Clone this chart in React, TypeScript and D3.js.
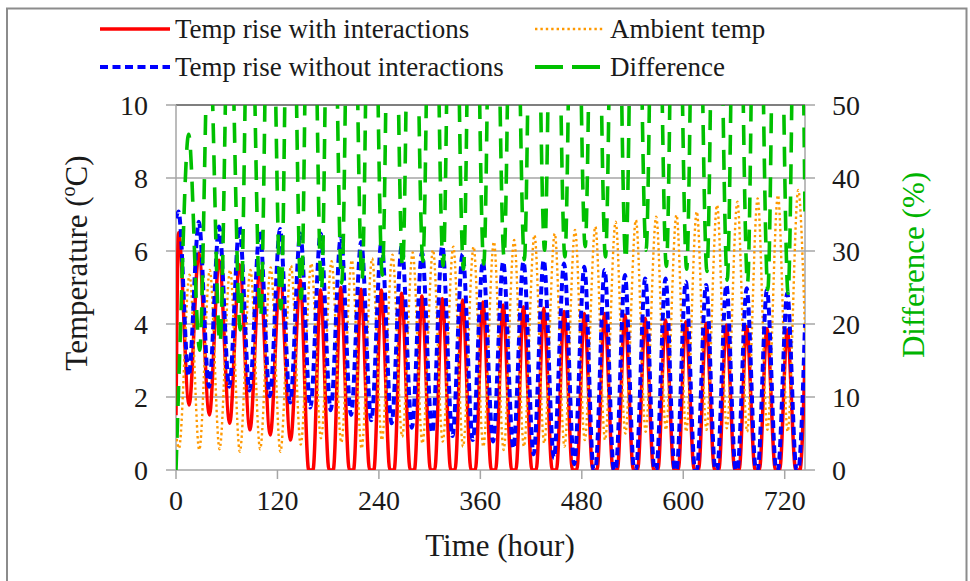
import React from "react";
import * as d3 from "d3";

// ---- Data ----
const xTicks = [0, 120, 240, 360, 480, 600, 720];
const yLeftTicks = [0, 2, 4, 6, 8, 10];
const yRightTicks = [0, 10, 20, 30, 40, 50];
const dayStarts = [0, 24, 48, 72, 96, 120, 144, 168, 192, 216, 240, 264, 288, 312, 336, 360, 384, 408, 432, 456, 480, 504, 528, 552, 576, 600, 624, 648, 672, 696, 720];

// Temp rise with interactions (red): daily peaks / troughs (°C)
const redPeaks = [6.5, 5.94, 5.75, 5.62, 5.46, 5.34, 5.2, 4.93, 5.0, 4.95, 4.93, 4.84, 4.77, 4.7, 4.66, 4.6, 4.52, 4.47, 4.43, 4.34, 4.29, 4.29, 4.25, 4.16, 4.11, 4.06, 4.02, 3.97, 3.93, 3.88, 3.84];
const redTroughs = [1.78, 1.51, 1.28, 1.1, 0.96, 0.82, 0, 0, 0, 0, 0, 0, 0, 0, 0, 0, 0, 0, 0, 0, 0, 0, 0, 0, 0, 0, 0, 0, 0, 0, 0];
// Temp rise without interactions (blue)
const bluePeaks = [7.08, 6.8, 6.67, 6.67, 6.55, 6.6, 6.48, 6.48, 6.39, 6.25, 6.25, 6.14, 5.96, 6.14, 5.92, 5.71, 5.71, 5.71, 5.75, 5.66, 5.57, 5.48, 5.34, 5.25, 5.25, 5.16, 5.07, 5.07, 4.98, 4.93, 4.84];
const blueTroughs = [2.58, 2.28, 2.28, 2.18, 2.02, 1.85, 1.71, 1.64, 1.51, 1.36, 1.28, 1.16, 1.02, 0.93, 0.82, 0.78, 0.59, 0.43, 0.33, 0.16, 0, 0, 0, 0, 0, 0, 0, 0, 0, 0, 0];
// Ambient temp (orange)
const ambientPeaks = [5.35, 5.48, 5.48, 5.48, 5.55, 5.6, 5.66, 5.72, 5.75, 5.8, 5.9, 5.96, 6.03, 6.12, 6.12, 6.25, 6.3, 6.44, 6.48, 6.58, 6.67, 6.8, 6.85, 6.94, 6.99, 7.08, 7.26, 7.35, 7.44, 7.53, 7.67];
const ambientTroughs = [0.59, 0.55, 0.57, 0.5, 0.57, 0.5, 0.7, 0.87, 0.75, 0.59, 0.82, 0.91, 0.73, 0.78, 0.64, 0.64, 0.55, 0.64, 0.73, 0.64, 0.82, 0.82, 1.0, 1.05, 1.1, 1.05, 1.1, 1.14, 1.05, 1.1, 1.05];
// Difference (green, %)
const diffLows = [14.6, 16.4, 17.4, 19.2, 21.0, 22.1, 23.5, 24.7, 25.6, 26.0, 26.7, 27.8, 28.6, 28.0, 27.5, 28.2, 29.2, 28.8, 30.1, 29.2, 30.6, 29.2, 28.8, 30.1, 27.9, 27.5, 27.2, 26.0, 25.6, 24.7, 24.2];
const diffHighs = [46, 62, 70, 78, 86, 95, 100, 100, 100, 100, 100, 100, 100, 100, 100, 100, 100, 100, 100, 100, 100, 100, 100, 100, 100, 100, 100, 100, 100, 100, 100];

// start / end values of each hourly series
const redEnds = [1.5, 3.0];
const blueEnds = [6.9, 4.0];
const ambientEnds = [1.0, 3.8];
const diffEnds = [0, 35];

const W = 970;
const H = 581;
const M = { left: 176, right: 805, top: 105, bottom: 470 };
const FONT = "'Liberation Serif', 'Times New Roman', serif";

type P = [number, number];

function buildSeries(
  highs: number[],
  lows: number[],
  highHour: number,
  lowHour: number,
  flatHalf: number,
  ends: number[]
): P[] {
  const pts: P[] = [[0, ends[0]]];
  dayStarts.forEach((d, i) => {
    pts.push([d + highHour, highs[i]]);
    if (lows[i] === 0 && flatHalf > 0) {
      pts.push([d + lowHour - flatHalf, 0]);
      pts.push([d + lowHour + flatHalf, 0]);
    } else {
      pts.push([d + lowHour, lows[i]]);
    }
  });
  const out = pts.filter((p) => p[0] < 744).sort((a, b) => a[0] - b[0]);
  out.push([744, ends[1]]);
  return out;
}

export default function App() {
  const x = d3.scaleLinear().domain([0, 744]).range([M.left, M.right]);
  const yL = d3.scaleLinear().domain([0, 10]).range([M.bottom, M.top]);
  const yR = d3.scaleLinear().domain([0, 50]).range([M.bottom, M.top]);

  const red = buildSeries(redPeaks, redTroughs, 3, 15.5, 2.5, redEnds);
  const blue = buildSeries(bluePeaks, blueTroughs, 3, 15, 1, blueEnds);
  const amb = buildSeries(ambientPeaks, ambientTroughs, 16, 3.5, 0, ambientEnds);
  const diff = buildSeries(diffHighs, diffLows, 15, 4, 0, diffEnds);

  const lineL = d3
    .line<P>()
    .x((d) => x(d[0]))
    .y((d) => yL(d[1]))
    .curve(d3.curveMonotoneX);
  const lineR = d3
    .line<P>()
    .x((d) => x(d[0]))
    .y((d) => yR(d[1]))
    .curve(d3.curveMonotoneX);

  const gridColor = "#a6a6a6";
  const textColor = "#1a1a1a";

  return (
    <svg
      width={W}
      height={H}
      style={{ position: "absolute", left: 0, top: 0, background: "#fff" }}
      fontFamily={FONT}
    >
      <rect x={0} y={0} width={W} height={H} fill="#fff" />
      {/* outer frame */}
      <path d={`M7,${H + 5} V8.5 H966.5 V${H + 5}`} fill="none" stroke="#8c8c8c" strokeWidth={2} />
      <defs>
        <clipPath id="plotClip">
          <rect x={M.left} y={M.top} width={M.right - M.left} height={M.bottom - M.top} />
        </clipPath>
      </defs>

      {/* grid lines */}
      {yLeftTicks.map((t) => (
        <line
          key={"g" + t}
          x1={M.left}
          x2={M.right}
          y1={yL(t)}
          y2={yL(t)}
          stroke={t === 10 ? "#7f7f7f" : gridColor}
          strokeWidth={t === 10 ? 2 : 1.5}
        />
      ))}
      {/* axes lines */}
      <line x1={M.left} x2={M.left} y1={M.top} y2={M.bottom} stroke={gridColor} strokeWidth={1.5} />
      <line x1={M.right} x2={M.right} y1={M.top} y2={M.bottom} stroke={gridColor} strokeWidth={1.5} />
      {/* left ticks */}
      {yLeftTicks.map((t) => (
        <g key={"yl" + t}>
          <line x1={M.left - 10} x2={M.left} y1={yL(t)} y2={yL(t)} stroke={gridColor} strokeWidth={1.5} />
          <text x={148} y={yL(t) + 9.5} textAnchor="end" fontSize={28} fill={textColor}>
            {t}
          </text>
        </g>
      ))}
      {/* right ticks */}
      {yRightTicks.map((t) => (
        <g key={"yr" + t}>
          <line x1={M.right} x2={M.right + 10} y1={yR(t)} y2={yR(t)} stroke={gridColor} strokeWidth={1.5} />
          <text x={832} y={yR(t) + 9.5} textAnchor="start" fontSize={28} fill={textColor}>
            {t}
          </text>
        </g>
      ))}
      {/* x ticks */}
      {xTicks.map((t) => (
        <g key={"x" + t}>
          <line x1={x(t)} x2={x(t)} y1={M.bottom} y2={M.bottom + 9} stroke={gridColor} strokeWidth={1.5} />
          <text x={x(t)} y={510} textAnchor="middle" fontSize={28} fill={textColor}>
            {t}
          </text>
        </g>
      ))}

      {/* series */}
      <g clipPath="url(#plotClip)">
        <path d={lineL(red) || ""} fill="none" stroke="#ff0000" strokeWidth={3.5} strokeLinejoin="round" />
        <path d={lineL(amb) || ""} fill="none" stroke="#ff9900" strokeWidth={2.4} strokeDasharray="2.4,3" />
        <path d={lineL(blue) || ""} fill="none" stroke="#0000ff" strokeWidth={4} strokeDasharray="8,4.5" />
        <path d={lineR(diff) || ""} fill="none" stroke="#00c000" strokeWidth={3.6} strokeDasharray="20,12" />
      </g>

      {/* axis titles */}
      <text x={500} y={556} textAnchor="middle" fontSize={31} fill={textColor}>
        Time (hour)
      </text>
      <text transform="translate(87,263) rotate(-90)" textAnchor="middle" fontSize={31} fill={textColor}>
        Temperature (
        <tspan fontSize={20} dy={-12}>
          o
        </tspan>
        <tspan dy={12}>C)</tspan>
      </text>
      <text transform="translate(924,265) rotate(-90)" textAnchor="middle" fontSize={31} fill="#00b400">
        Difference (%)
      </text>

      {/* legend */}
      <line x1={100} x2={170} y1={29} y2={29} stroke="#ff0000" strokeWidth={3.5} />
      <text x={175} y={38} fontSize={27} fill={textColor}>
        Temp rise with interactions
      </text>
      <line x1={100} x2={170} y1={67} y2={67} stroke="#0000ff" strokeWidth={4} strokeDasharray="8,4.5" />
      <text x={175} y={76} fontSize={27} fill={textColor}>
        Temp rise without interactions
      </text>
      <line x1={535} x2={605} y1={29} y2={29} stroke="#ff9900" strokeWidth={2.4} strokeDasharray="2.4,3" />
      <text x={610} y={38} fontSize={27} fill={textColor}>
        Ambient temp
      </text>
      <line x1={535} x2={605} y1={67} y2={67} stroke="#00c000" strokeWidth={4} strokeDasharray="28,9" />
      <text x={610} y={76} fontSize={27} fill={textColor}>
        Difference
      </text>
    </svg>
  );
}
